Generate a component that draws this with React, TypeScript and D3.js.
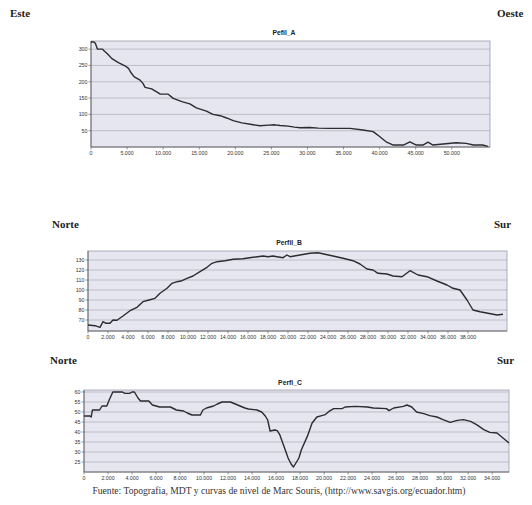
import React from "react";
import * as d3 from "d3";

// ---- Perfil A (Este -> Oeste) ----
const distA = [0, 400, 600, 900, 1600, 1800, 2300, 2900, 3800, 4700, 5200, 5600, 6000, 6800, 7200, 7500, 8400, 9100, 9600, 10700, 11400, 12600, 13700, 14600, 16000, 16900, 17900, 18800, 19700, 20900, 22300, 23400, 24600, 25500, 26200, 27300, 28200, 29000, 30300, 31500, 33100, 35900, 37700, 39100, 40000, 40900, 41900, 43300, 44200, 45100, 46000, 46700, 47400, 48800, 50600, 52000, 53000, 54300, 55000];
const elevA = [322, 322, 318, 300, 300, 295, 285, 271, 259, 249, 241, 226, 215, 205, 195, 183, 178, 169, 162, 162, 149, 139, 132, 120, 110, 100, 96, 89, 81, 74, 69, 65, 67, 68, 66, 64, 61, 59, 60, 58, 57, 57, 52, 47, 32, 16, 6, 6, 16, 6, 6, 15, 6, 9, 13, 11, 6, 6, 2];
const xTicksA = [0, 5000, 10000, 15000, 20000, 25000, 30000, 35000, 40000, 45000, 50000];
const yTicksA = [50, 100, 150, 200, 250, 300];

// ---- Perfil B (Norte -> Sur) ----
const distB = [0, 700, 1200, 1500, 1800, 2200, 2500, 2900, 3500, 4200, 4900, 5500, 6100, 6700, 7200, 7900, 8400, 8900, 9400, 9900, 10500, 11200, 11900, 12400, 12900, 13700, 14500, 15500, 16500, 17500, 18000, 18500, 18900, 19500, 19900, 20200, 21200, 22200, 23000, 23700, 24500, 25500, 26500, 27200, 27900, 28500, 29000, 29900, 30500, 31400, 32200, 33000, 33900, 34900, 35900, 36500, 37200, 37900, 38500, 39200, 40000, 40900, 41500];
const elevB = [65, 64.3, 62.7, 68.3, 66.7, 66.7, 70, 69.7, 74, 79.3, 82.7, 88.3, 90, 91.7, 96.7, 101.7, 106.7, 108.3, 109.3, 111.7, 114, 118.3, 122.7, 126.7, 128.3, 129.3, 130.7, 131.3, 132.7, 134, 133.3, 134, 133.3, 132.3, 135, 133.3, 135, 136.7, 137.3, 135.7, 134, 131.7, 129.3, 126, 121, 120, 116.7, 116, 114, 113.3, 119.3, 115, 113.3, 109, 105, 101.7, 100, 90, 80, 78.3, 76.7, 75, 75.7];
const xTicksB = [0, 2000, 4000, 6000, 8000, 10000, 12000, 14000, 16000, 18000, 20000, 22000, 24000, 26000, 28000, 30000, 32000, 34000, 36000, 38000];
const yTicksB = [70, 80, 90, 100, 110, 120, 130];

// ---- Perfil C (Norte -> Sur) ----
const distC = [0, 500, 600, 700, 1300, 1500, 1900, 2100, 2400, 3200, 3400, 3800, 4000, 4200, 4500, 4700, 5400, 5700, 6300, 7200, 7700, 8300, 8600, 9000, 9700, 9900, 10200, 10800, 11100, 11500, 12200, 12600, 13000, 13400, 13700, 14400, 14800, 15100, 15300, 15500, 15900, 16100, 16300, 16750, 17000, 17250, 17450, 17700, 17900, 18100, 18600, 19000, 19400, 19800, 20100, 20400, 20800, 21500, 21750, 22600, 23600, 24100, 25200, 25400, 25800, 26600, 26900, 27300, 27700, 28300, 28800, 29400, 29900, 30500, 31100, 31600, 32200, 32700, 33300, 33800, 34400, 34900, 35400];
const elevC = [48, 48, 47.5, 51, 51, 53, 53, 56, 60, 60, 59.3, 59.3, 60, 60, 57, 55.5, 55.5, 53.5, 52.5, 52.5, 51, 50.5, 49.5, 48.5, 48.5, 51, 52, 53, 54, 55, 55, 54, 53, 52, 51.5, 51, 50, 48, 46, 40.5, 41, 40.7, 38.7, 31.2, 27, 24, 22.5, 25, 27, 31, 37.8, 44.5, 47.5, 48.2, 48.7, 50.3, 51.7, 51.7, 52.5, 52.8, 52.5, 52, 51.7, 50.7, 52, 52.8, 53.5, 52.5, 50, 49.2, 48.2, 47.5, 46.2, 44.8, 45.8, 46.2, 45.3, 43.7, 41.2, 39.8, 39.5, 37, 34.5];
const xTicksC = [0, 2000, 4000, 6000, 8000, 10000, 12000, 14000, 16000, 18000, 20000, 22000, 24000, 26000, 28000, 30000, 32000, 34000];
const yTicksC = [25, 30, 35, 40, 45, 50, 55, 60];

const fmt = (v: number) => d3.format(",")(v).replace(/,/g, ".");
const SANS = "'Liberation Sans', Arial, sans-serif";
const SERIF = "'Liberation Serif', 'Times New Roman', serif";

type Props = {
  title: string;
  titleX: number;
  titleY: number;
  dist: number[];
  elev: number[];
  xDomain: [number, number];
  yDomain: [number, number];
  xTicks: number[];
  yTicks: number[];
  l: number;
  r: number;
  t: number;
  b: number;
};

function Profile(p: Props) {
  const x = d3.scaleLinear().domain(p.xDomain).range([p.l, p.r]);
  const y = d3.scaleLinear().domain(p.yDomain).range([p.b, p.t]);
  const line = d3
    .line<number>()
    .x((_, i) => x(p.dist[i]))
    .y((d) => y(d));
  return (
    <g>
      <text x={p.titleX} y={p.titleY} textAnchor="middle" fontFamily={SANS} fontWeight="bold" fontSize={6.8} fill="#222">
        {p.title}
      </text>
      <rect x={p.l} y={p.t} width={p.r - p.l} height={p.b - p.t} fill="#e6e6f0" stroke="#9c9ca8" strokeWidth={0.8} />
      {p.yTicks.map((v) => (
        <line key={"g" + v} x1={p.l} x2={p.r} y1={y(v)} y2={y(v)} stroke="#a4a4b0" strokeWidth={0.6} />
      ))}
      <line x1={p.l} x2={p.l} y1={p.t} y2={p.b} stroke="#555" strokeWidth={0.8} />
      <line x1={p.l} x2={p.r} y1={p.b} y2={p.b} stroke="#555" strokeWidth={0.8} />
      {p.yTicks.map((v) => (
        <g key={"y" + v}>
          <line x1={p.l - 2.5} x2={p.l} y1={y(v)} y2={y(v)} stroke="#555" strokeWidth={0.6} />
          <text x={p.l - 3.5} y={y(v) + 1.9} textAnchor="end" fontFamily={SANS} fontSize={5.3} fill="#333">
            {fmt(v)}
          </text>
        </g>
      ))}
      {p.xTicks.map((v) => (
        <g key={"x" + v}>
          <line x1={x(v)} x2={x(v)} y1={p.b} y2={p.b + 2.5} stroke="#555" strokeWidth={0.6} />
          <text x={x(v)} y={p.b + 8} textAnchor="middle" fontFamily={SANS} fontSize={5.3} fill="#333">
            {fmt(v)}
          </text>
        </g>
      ))}
      <path d={line(p.elev) || ""} fill="none" stroke="#2b2b30" strokeWidth={1.4} strokeLinejoin="round" />
    </g>
  );
}

export default function App() {
  return (
    <svg width={532} height={505} style={{ position: "absolute", left: 0, top: 0, background: "#fff" }}>
      <rect width={532} height={505} fill="#fff" />
      <g fontFamily={SERIF} fontWeight="bold" fontSize={11} fill="#222">
        <text x={10} y={17}>Este</text>
        <text x={497} y={17}>Oeste</text>
        <text x={52} y={228}>Norte</text>
        <text x={494} y={228}>Sur</text>
        <text x={50} y={364}>Norte</text>
        <text x={497} y={364}>Sur</text>
      </g>
      <Profile title="Pefil_A" titleX={284} titleY={35} dist={distA} elev={elevA} xDomain={[0, 55300]} yDomain={[0, 325]} xTicks={xTicksA} yTicks={yTicksA} l={91} r={490} t={41} b={147} />
      <Profile title="Perfil_B" titleX={289} titleY={245} dist={distB} elev={elevB} xDomain={[0, 41900]} yDomain={[59, 139]} xTicks={xTicksB} yTicks={yTicksB} l={88} r={507} t={251} b={331} />
      <Profile title="Perfi_C" titleX={290} titleY={385} dist={distC} elev={elevC} xDomain={[0, 35400]} yDomain={[20, 61]} xTicks={xTicksC} yTicks={yTicksC} l={84} r={509} t={390} b={472} />
      <text x={279} y={494} textAnchor="middle" fontFamily={SERIF} fontSize={9.6} fill="#333">
        Fuente: Topografia, MDT y curvas de nivel de Marc Souris, (http://www.savgis.org/ecuador.htm)
      </text>
    </svg>
  );
}
